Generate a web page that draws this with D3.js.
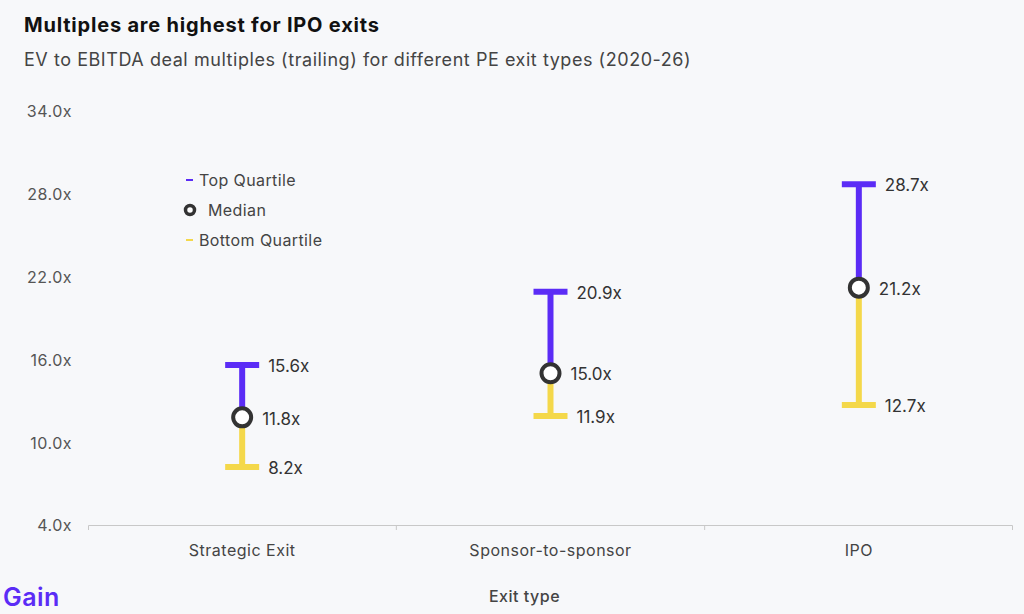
<!DOCTYPE html>
<html>
<head>
<meta charset="utf-8">
<script src="https://cdn.jsdelivr.net/npm/d3@7"></script>
<style>
  body { margin: 0; background: #f7f8fa; font-family: Inter, "Noto Sans", sans-serif; }
  #chart { width: 1024px; height: 614px; }
</style>
</head>
<body>
<div id="chart"></div>
<script>
const categories = ['Strategic Exit', 'Sponsor-to-sponsor', 'IPO'];
const topQuartile = [15.6, 20.9, 28.7];
const median = [11.8, 15.0, 21.2];
const bottomQuartile = [8.2, 11.9, 12.7];
const yTicks = [4, 10, 16, 22, 28, 34];

const purple = '#5b2cf6';
const yellow = '#f4d84a';
const dark = '#333333';

const width = 1024, height = 614;
const margin = { top: 111, right: 11, bottom: 89, left: 88 };
const w = width - margin.left - margin.right;
const h = height - margin.top - margin.bottom;

const svg = d3.select('#chart')
    .append('svg')
    .attr('width', width)
    .attr('height', height);

svg.append('rect').attr('width', width).attr('height', height).attr('fill', '#f7f8fa');

// title
svg.append('text')
    .attr('x', 24).attr('y', 32)
    .attr('font-size', 20).attr('font-weight', 700).attr('fill', '#111')
    .attr('letter-spacing', 0.8)
    .text('Multiples are highest for IPO exits');
svg.append('text')
    .attr('x', 24).attr('y', 66)
    .attr('font-size', 18).attr('fill', '#444')
    .attr('letter-spacing', 0.55)
    .text('EV to EBITDA deal multiples (trailing) for different PE exit types (2020-26)');

const g = svg.append('g')
    .attr('transform', `translate(${margin.left}, ${margin.top})`);

const yScale = d3.scaleLinear().domain([4, 34]).range([h, 0]);
const xScale = d3.scaleBand().domain(categories).range([0, w]);

// y labels (no axis line)
g.append('g')
    .selectAll('text')
    .data(yTicks)
    .enter()
    .append('text')
    .attr('x', -16)
    .attr('y', d => yScale(d))
    .attr('dy', '0.4em')
    .attr('text-anchor', 'end')
    .attr('font-size', 16)
    .attr('letter-spacing', 0.5)
    .attr('fill', '#555')
    .text(d => d.toFixed(1) + 'x');

// x axis
const xAxis = g.append('g')
    .attr('transform', `translate(0, ${h})`)
    .call(d3.axisBottom(xScale).tickSize(0).tickPadding(20));
xAxis.select('.domain').attr('stroke', '#c8c8c8').attr('d', `M0.5,5V0.5H${w - 0.5}V5`);
xAxis.selectAll('text').attr('font-size', 16).attr('fill', '#444')
    .attr('letter-spacing', 0.5).attr('font-family', 'Inter, sans-serif');
xAxis.selectAll('.edge')
    .data(categories.slice(1))
    .enter()
    .append('line')
    .attr('x1', d => xScale(d)).attr('x2', d => xScale(d))
    .attr('y1', 0).attr('y2', 5)
    .attr('stroke', '#c8c8c8');

svg.append('text')
    .attr('x', margin.left + w / 2 - 26).attr('y', 602)
    .attr('text-anchor', 'middle')
    .attr('font-size', 16).attr('font-weight', 500).attr('fill', '#444')
    .attr('letter-spacing', 0.5)
    .text('Exit type');

const data = categories.map((c, i) => ({
    name: c, top: topQuartile[i], med: median[i], bot: bottomQuartile[i]
}));
const cx = d => xScale(d.name) + xScale.bandwidth() / 2;
const capW = 34;

const groups = g.selectAll('.whisker')
    .data(data)
    .enter()
    .append('g')
    .classed('whisker', true);

// top part
groups.append('line')
    .attr('x1', cx).attr('x2', cx)
    .attr('y1', d => yScale(d.top)).attr('y2', d => yScale(d.med))
    .attr('stroke', purple).attr('stroke-width', 6);
groups.append('line')
    .attr('x1', d => cx(d) - capW / 2).attr('x2', d => cx(d) + capW / 2)
    .attr('y1', d => yScale(d.top)).attr('y2', d => yScale(d.top))
    .attr('stroke', purple).attr('stroke-width', 6);

// bottom part
groups.append('line')
    .attr('x1', cx).attr('x2', cx)
    .attr('y1', d => yScale(d.med)).attr('y2', d => yScale(d.bot))
    .attr('stroke', yellow).attr('stroke-width', 6);
groups.append('line')
    .attr('x1', d => cx(d) - capW / 2).attr('x2', d => cx(d) + capW / 2)
    .attr('y1', d => yScale(d.bot)).attr('y2', d => yScale(d.bot))
    .attr('stroke', yellow).attr('stroke-width', 6);

// median
groups.append('circle')
    .attr('cx', cx).attr('cy', d => yScale(d.med))
    .attr('r', 9)
    .attr('fill', '#fff').attr('stroke', dark).attr('stroke-width', 4);

// labels
const lbl = (sel, key, dx) => sel.append('text')
    .attr('x', d => cx(d) + dx)
    .attr('y', d => yScale(d[key]))
    .attr('dy', '0.42em')
    .attr('font-size', 17).attr('fill', '#333')
    .text(d => d[key].toFixed(1) + 'x');
lbl(groups, 'top', 26);
lbl(groups, 'med', 20);
lbl(groups, 'bot', 26);

// legend
const legend = svg.append('g').attr('transform', 'translate(186, 180)');
legend.append('line').attr('x1', 0).attr('x2', 7).attr('y1', 0).attr('y2', 0)
    .attr('stroke', purple).attr('stroke-width', 2);
legend.append('text').attr('x', 13).attr('y', 0).attr('dy', '0.35em')
    .attr('font-size', 16).attr('fill', '#444').attr('letter-spacing', 0.4).text('Top Quartile');
legend.append('circle').attr('cx', 4).attr('cy', 30).attr('r', 4.5)
    .attr('fill', '#fff').attr('stroke', dark).attr('stroke-width', 3.5);
legend.append('text').attr('x', 22).attr('y', 30).attr('dy', '0.35em')
    .attr('font-size', 16).attr('fill', '#444').attr('letter-spacing', 0.4).text('Median');
legend.append('line').attr('x1', 0).attr('x2', 7).attr('y1', 60).attr('y2', 60)
    .attr('stroke', yellow).attr('stroke-width', 2);
legend.append('text').attr('x', 13).attr('y', 60).attr('dy', '0.35em')
    .attr('font-size', 16).attr('fill', '#444').attr('letter-spacing', 0.4).text('Bottom Quartile');

// logo
svg.append('text')
    .attr('x', 3).attr('y', 606)
    .attr('font-size', 25).attr('font-weight', 600).attr('fill', purple)
    .attr('letter-spacing', 0.5)
    .text('Gain');
</script>
</body>
</html>
